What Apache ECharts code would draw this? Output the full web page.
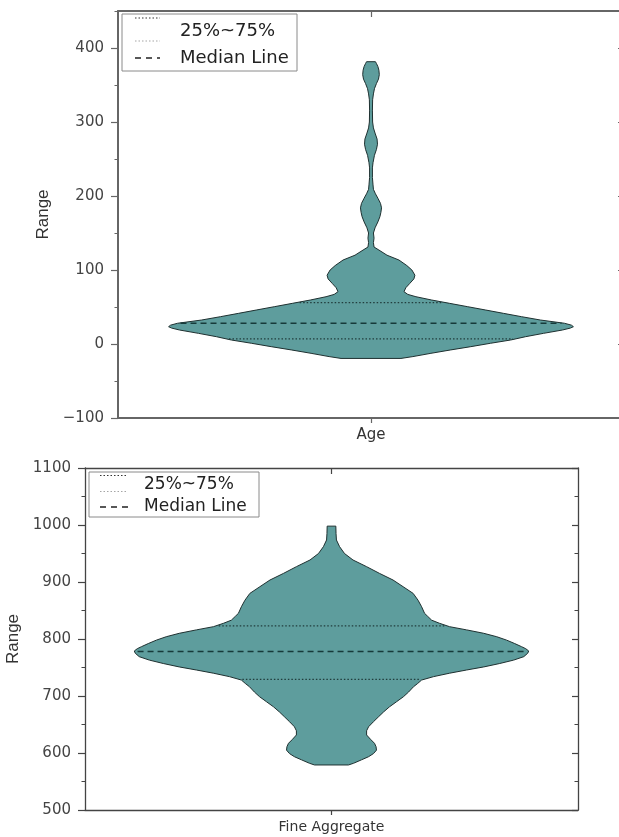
<!DOCTYPE html>
<html><head><meta charset="utf-8">
<script src="https://cdn.jsdelivr.net/npm/echarts@6/dist/echarts.min.js"></script>
<style>html,body{margin:0;padding:0;background:#fff}#c{width:619px;height:837px}</style>
</head><body><div id="c"></div>
<script>
// ---------- data ----------
const ageCategory = ['Age'];
const ageLevels = [-19.5,-17,-12.6,-8,-3.6,1,5.4,9.9,14.4,18.9,21.5,23.4,25.5,28,32.4,36.9,41.4,45.9,50.4,54.9,59.4,63.9,67,70.7,76,82,88,93,100,106,113.5,120,127,131,137,143,150,157,165,172,178,184,190,197,203,209,215,225,238,245,255,263,270,277,285,292,300,315,330,338,345,352,358,364,370,375,379,381.5];
const ageDensity = [0.148,0.207,0.296,0.394,0.493,0.591,0.690,0.764,0.852,0.946,0.985,1.000,0.990,0.956,0.837,0.744,0.655,0.567,0.478,0.389,0.300,0.222,0.182,0.163,0.172,0.192,0.212,0.217,0.202,0.177,0.138,0.079,0.039,0.015,0.012,0.015,0.012,0.020,0.034,0.044,0.049,0.052,0.047,0.034,0.022,0.012,0.010,0.007,0.007,0.010,0.017,0.027,0.032,0.030,0.020,0.012,0.008,0.007,0.008,0.012,0.017,0.027,0.037,0.041,0.039,0.034,0.027,0.022];
const ageQuartiles = [7, 28, 56];      // Q1, median, Q3

const fineCategory = ['Fine Aggregate'];
const fineLevels = [579,582,588,593.5,599,605,611,617,624,631.6,639,646,655,663.7,672,681,690,698.8,707,716.3,722,728,734,740,745.6,751,757,763,769,775,779,783,786.5,792,798,804,810,816,821.6,827.5,833,840,845,856.6,868,880,891.8,903.5,915,926.9,938.6,950,962,973.7,985,998];
const fineDensity = [0.086,0.112,0.152,0.188,0.213,0.228,0.226,0.218,0.198,0.178,0.178,0.188,0.213,0.239,0.264,0.294,0.330,0.365,0.391,0.416,0.437,0.457,0.518,0.599,0.685,0.772,0.853,0.924,0.975,0.995,1.000,0.985,0.964,0.929,0.888,0.838,0.772,0.685,0.599,0.548,0.508,0.487,0.472,0.457,0.439,0.414,0.363,0.312,0.244,0.178,0.109,0.066,0.041,0.025,0.023,0.022];
const fineQuartiles = [729, 778, 823];

const legendLabels = ['25%~75%', 'Median Line'];
const yAxisName = 'Range';

// ---------- chart ----------
const FONT = 'DejaVu Sans';
const FILL = '#5E9D9D';

function violin(levels, density, quart) {
  const maxD = Math.max(...density);
  function dAt(v) {
    for (let i = 1; i < levels.length; i++) {
      if (v <= levels[i]) {
        const t = (v - levels[i-1]) / (levels[i] - levels[i-1]);
        return density[i-1] + t * (density[i] - density[i-1]);
      }
    }
    return density[density.length-1];
  }
  return function (params, api) {
    const cx = api.coord([0, levels[0]])[0];
    const band = api.size([1, 0])[0];
    const half = band * 0.4;
    const right = [], left = [];
    for (let i = 0; i < levels.length; i++) {
      const y = api.coord([0, levels[i]])[1];
      const w = density[i] / maxD * half;
      right.push([cx + w, y]);
      left.unshift([cx - w, y]);
    }
    const children = [{
      type: 'polygon',
      shape: { points: right.concat(left) },
      style: { fill: FILL, stroke: '#1e3030', lineWidth: 1 }
    }];
    quart.forEach((q, i) => {
      const y = api.coord([0, q])[1];
      const w = dAt(q) / maxD * half - 3;
      children.push({
        type: 'line',
        shape: { x1: cx - w, y1: y, x2: cx + w, y2: y },
        style: { stroke: i === 1 ? '#163a3a' : '#213d3d', lineWidth: i === 1 ? 1.6 : 1.3,
                 lineDash: i === 1 ? [6, 4] : [1.5, 2] }
      });
    });
    return { type: 'group', children };
  };
}

function fmt(v) { return v < 0 ? '\u2212' + Math.abs(v) : String(v); }

function yAxes(grid, min, max, color, lw, nameGap) {
  const common = { gridIndex: grid, type: 'value', min: min, max: max, splitLine: { show: false } };
  return [
    Object.assign({}, common, {
      position: 'left', interval: 100, name: yAxisName, nameLocation: 'middle', nameGap: nameGap,
      nameTextStyle: { fontFamily: 'Liberation Sans', fontSize: 17, color: '#333' },
      axisLine: { show: true, lineStyle: { color: color, width: lw } },
      axisTick: { show: true, inside: false, length: 7, lineStyle: { color: color, width: 1.2 } },
      axisLabel: { show: true, margin: 14, fontFamily: FONT, fontSize: 15, color: '#444',
                   formatter: fmt, showMaxLabel: max % 100 === 0 }
    }),
    Object.assign({}, common, {
      position: 'left', interval: 50,
      axisLine: { show: false },
      axisTick: { show: true, inside: false, length: 3.5, lineStyle: { color: color, width: 1 } },
      axisLabel: { show: false }
    }),
    Object.assign({}, common, {
      position: 'right', interval: 100,
      axisLine: { show: true, lineStyle: { color: color, width: lw } },
      axisTick: { show: true, inside: true, length: 6, lineStyle: { color: color, width: 1.2 } },
      axisLabel: { show: false }
    }),
    Object.assign({}, common, {
      position: 'right', interval: 50,
      axisLine: { show: false },
      axisTick: { show: true, inside: true, length: 3.5, lineStyle: { color: color, width: 1 } },
      axisLabel: { show: false }
    })
  ];
}

function xAxes(grid, cats, color, lw, margin, fs) {
  return [
    { gridIndex: grid, type: 'category', data: cats, position: 'bottom',
      axisLine: { show: true, onZero: false, lineStyle: { color: color, width: lw } },
      axisTick: { show: true, alignWithLabel: true, length: 5, lineStyle: { color: color, width: 1.2 } },
      axisLabel: { margin: margin, fontFamily: FONT, fontSize: fs, color: '#333' },
      splitLine: { show: false } },
    { gridIndex: grid, type: 'category', data: cats, position: 'top',
      axisLine: { show: true, onZero: false, lineStyle: { color: color, width: lw } },
      axisTick: { show: true, inside: true, alignWithLabel: true, length: 6, lineStyle: { color: color, width: 1.2 } },
      axisLabel: { show: false }, splitLine: { show: false } }
  ];
}

function legendGraphics(box, sx1, sx2, dotY1, dotY2, dashY, textX, textY1, textY2, fs) {
  return [
    { type: 'rect', shape: box, style: { fill: 'none', stroke: '#8a8a8a', lineWidth: 1 }, z: 100 },
    { type: 'line', shape: { x1: sx1, y1: dotY1, x2: sx2, y2: dotY1 }, style: { stroke: '#333', lineWidth: 1.2, lineDash: [1.5, 2] }, z: 100 },
    { type: 'line', shape: { x1: sx1, y1: dotY2, x2: sx2, y2: dotY2 }, style: { stroke: '#a5a5a5', lineWidth: 1.2, lineDash: [1.5, 2] }, z: 100 },
    { type: 'line', shape: { x1: sx1, y1: dashY, x2: sx2, y2: dashY }, style: { stroke: '#222', lineWidth: 1.3, lineDash: [6, 5] }, z: 100 },
    { type: 'text', x: textX, y: textY1, style: { text: legendLabels[0], font: fs + 'px ' + FONT, fill: '#222', textVerticalAlign: 'middle' }, z: 100 },
    { type: 'text', x: textX, y: textY2, style: { text: legendLabels[1], font: fs + 'px ' + FONT, fill: '#222', textVerticalAlign: 'middle' }, z: 100 }
  ];
}

const chart = echarts.init(document.getElementById('c'), null, { renderer: 'canvas' });
chart.setOption({
  animation: false,
  backgroundColor: '#fff',
  grid: [
    { left: 118, right: -5, top: 11, height: 407, outerBoundsMode: 'none', containLabel: false },
    { left: 85, right: 41, top: 468, height: 342, outerBoundsMode: 'none', containLabel: false }
  ],
  xAxis: xAxes(0, ageCategory, '#666', 2, 10, 15).concat(xAxes(1, fineCategory, '#444', 1.3, 10, 14)),
  yAxis: yAxes(0, -100, 450, '#666', 2, 61).concat(yAxes(1, 500, 1100, '#444', 1.3, 57)),
  series: [
    { type: 'custom', xAxisIndex: 0, yAxisIndex: 0, data: [[0, ageQuartiles[1]]],
      renderItem: violin(ageLevels, ageDensity, ageQuartiles), z: 5 },
    { type: 'custom', xAxisIndex: 2, yAxisIndex: 4, data: [[0, fineQuartiles[1]]],
      renderItem: violin(fineLevels, fineDensity, fineQuartiles), z: 5 }
  ],
  graphic: legendGraphics({ x: 122, y: 14, width: 175, height: 57 }, 135, 160, 18, 41, 58, 180, 31, 58, 18)
    .concat(legendGraphics({ x: 89, y: 472, width: 170, height: 45 }, 100, 128, 475.5, 491.5, 507, 144, 485, 507, 17))
});
</script></body></html>
